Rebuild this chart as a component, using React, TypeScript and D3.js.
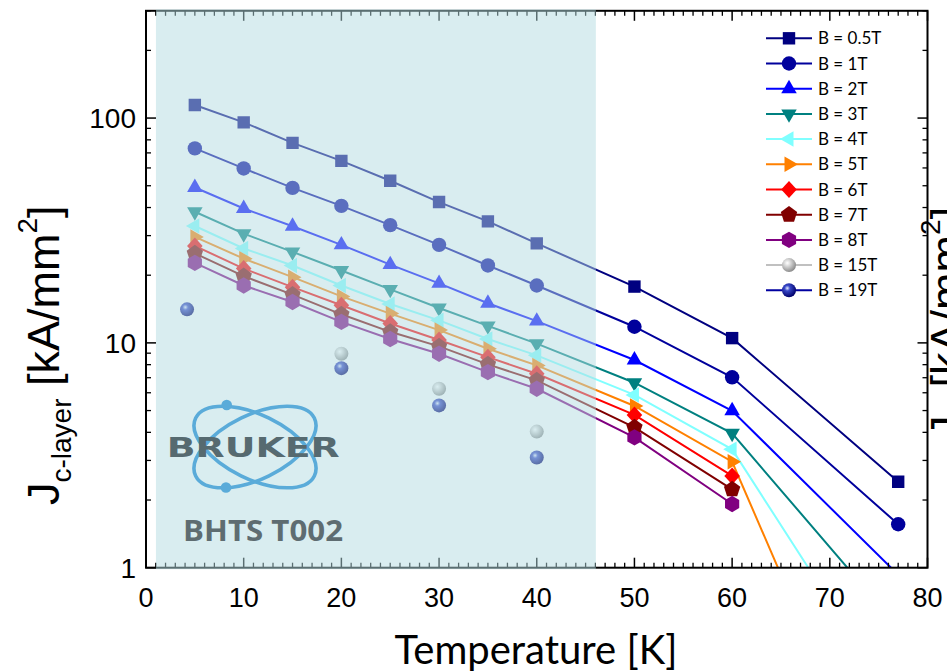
import React from 'react';
import * as d3 from 'd3';

// ---- data ----
const temps = [5, 10, 15, 20, 25, 30, 35, 40, 50, 60, 77];
const jc05T = [114.3, 95.7, 77.6, 64.5, 52.6, 42.3, 34.7, 27.7, 17.8, 10.5, 2.41];
const jc1T = [73.3, 59.7, 48.9, 40.7, 33.4, 27.3, 22.1, 18.0, 11.8, 7.03, 1.56];
const jc2T = [49.1, 39.6, 33.0, 27.3, 22.3, 18.4, 15.0, 12.5, 8.39, 4.99, 0.93];
const jc3T = [38.3, 30.6, 25.4, 21.0, 17.3, 14.3, 11.9, 9.92, 6.65, 3.96, 0.545];
const jc4T = [33.1, 26.3, 22.1, 18.0, 14.9, 12.6, 10.4, 8.8, 5.87, 3.36, 0.239];
const jc5T = [29.6, 23.7, 19.6, 16.1, 13.5, 11.4, 9.42, 7.94, 5.24, 2.96, 0.058];
const jc6T = [27.0, 21.4, 17.7, 14.7, 12.2, 10.3, 8.64, 7.29, 4.78, 2.56, null];
const jc7T = [25.0, 19.8, 16.4, 13.4, 11.2, 9.65, 8.02, 6.81, 4.21, 2.23, null];
const jc8T = [22.7, 18.0, 15.2, 12.4, 10.4, 8.95, 7.41, 6.25, 3.80, 1.92, null];
const temps15T = [20, 30, 40];
const jc15T = [8.95, 6.25, 4.03];
const temps19T = [4.2, 20, 30, 40];
const jc19T = [14.1, 7.72, 5.27, 3.09];

const legendLabels = ['B = 0.5T', 'B = 1T', 'B = 2T', 'B = 3T', 'B = 4T', 'B = 5T', 'B = 6T', 'B = 7T', 'B = 8T', 'B = 15T', 'B = 19T'];
const xTicks = [0, 10, 20, 30, 40, 50, 60, 70, 80];
const yTicks = [1, 10, 100];
const shadeRange = [1.02, 46.05];

// ---- geometry ----
const W = 947, H = 672;
const xs = d3.scaleLinear().domain([0, 80]).range([146, 927.5]);
const ys = d3.scaleLog().domain([1, 300]).range([567.7, 10.8]);

type Kind = 'square' | 'circle' | 'triUp' | 'triDown' | 'triLeft' | 'triRight' | 'diamond' | 'pentagon' | 'hexagon' | 'ballGray' | 'ballBlue';

function poly(n: number, r: number, start: number) {
  const pts: string[] = [];
  for (let k = 0; k < n; k++) {
    const a = (start + (360 / n) * k) * Math.PI / 180;
    pts.push(`${(r * Math.cos(a)).toFixed(2)},${(r * Math.sin(a)).toFixed(2)}`);
  }
  return 'M' + pts.join('L') + 'Z';
}

function markerPath(kind: Kind): string {
  const s = 15.5, h = s * Math.sqrt(3) / 2, a = (2 * h) / 3, b = h / 3;
  switch (kind) {
    case 'square': return 'M-6.2,-6.2H6.2V6.2H-6.2Z';
    case 'circle': return d3.symbol(d3.symbolCircle, Math.PI * 7.2 * 7.2)() as string;
    case 'triUp': return `M0,${-a}L${s / 2},${b}L${-s / 2},${b}Z`;
    case 'triDown': return `M0,${a}L${s / 2},${-b}L${-s / 2},${-b}Z`;
    case 'triLeft': return `M${-a},0L${b},${s / 2}L${b},${-s / 2}Z`;
    case 'triRight': return `M${a},0L${-b},${s / 2}L${-b},${-s / 2}Z`;
    case 'diamond': return 'M0,-8.5L7.8,0L0,8.5L-7.8,0Z';
    case 'pentagon': return poly(5, 8.6, -90);
    case 'hexagon': return poly(6, 8.2, -90);
    default: return d3.symbol(d3.symbolCircle, Math.PI * 49)() as string;
  }
}

interface Series { label: string; color: string; kind: Kind; t: number[]; v: (number | null)[]; line: boolean; }

const series: Series[] = [
  { label: legendLabels[0], color: '#000080', kind: 'square', t: temps, v: jc05T, line: true },
  { label: legendLabels[1], color: '#00009c', kind: 'circle', t: temps, v: jc1T, line: true },
  { label: legendLabels[2], color: '#0000ff', kind: 'triUp', t: temps, v: jc2T, line: true },
  { label: legendLabels[3], color: '#008080', kind: 'triDown', t: temps, v: jc3T, line: true },
  { label: legendLabels[4], color: '#80ffff', kind: 'triLeft', t: temps, v: jc4T, line: true },
  { label: legendLabels[5], color: '#ff8000', kind: 'triRight', t: temps, v: jc5T, line: true },
  { label: legendLabels[6], color: '#ff0000', kind: 'diamond', t: temps, v: jc6T, line: true },
  { label: legendLabels[7], color: '#800000', kind: 'pentagon', t: temps, v: jc7T, line: true },
  { label: legendLabels[8], color: '#800080', kind: 'hexagon', t: temps, v: jc8T, line: true },
  { label: legendLabels[9], color: '#c0c0c0', kind: 'ballGray', t: temps15T, v: jc15T, line: false },
  { label: legendLabels[10], color: '#0000a0', kind: 'ballBlue', t: temps19T, v: jc19T, line: false },
];

function Marker({ kind, color, x, y }: { kind: Kind; color: string; x: number; y: number }) {
  if (kind === 'ballGray' || kind === 'ballBlue') {
    return <circle cx={x} cy={y} r={7} fill={kind === 'ballGray' ? 'url(#ballGray)' : 'url(#ballBlue)'} />;
  }
  return <path d={markerPath(kind)} transform={`translate(${x},${y})`} fill={color} />;
}

export default function App() {
  const [x0, x1] = xs.range();
  const [yb, yt] = ys.range();
  const line = d3.line<[number, number]>().x(d => xs(d[0])).y(d => ys(d[1]));

  const minorX = d3.range(0, 81, 1).filter(t => t % 10 !== 0);
  const minorY: number[] = [];
  [1, 10, 100].forEach(dec => { for (let m = 2; m <= 9; m++) { const v = m * dec; if (v <= 300) minorY.push(v); } });

  const axisFont = '"Liberation Sans", Arial, sans-serif';
  const calibri = 'Lato, "Open Sans", sans-serif';

  return (
    <svg width={W} height={H} style={{ position: 'absolute', left: 0, top: 0, background: '#fff' }}>
      <defs>
        <clipPath id="plotClip"><rect x={x0} y={yt} width={x1 - x0} height={yb - yt} /></clipPath>
        <radialGradient id="ballGray" cx="0.38" cy="0.35" r="0.65">
          <stop offset="0" stopColor="#ffffff" />
          <stop offset="0.35" stopColor="#d8d8d8" />
          <stop offset="1" stopColor="#8c8c8c" />
        </radialGradient>
        <radialGradient id="ballBlue" cx="0.38" cy="0.35" r="0.65">
          <stop offset="0" stopColor="#e6ecff" />
          <stop offset="0.3" stopColor="#3848c8" />
          <stop offset="1" stopColor="#00006a" />
        </radialGradient>
      </defs>

      {/* data */}
      <g clipPath="url(#plotClip)">
        {series.map((s, i) => {
          const pts: [number, number][] = [];
          s.t.forEach((t, j) => { const v = s.v[j]; if (v != null) pts.push([t, v]); });
          return (
            <g key={i}>
              {s.line && <path d={line(pts) as string} fill="none" stroke={s.color} strokeWidth={2} />}
              {pts.map((p, j) => <Marker key={j} kind={s.kind} color={s.color} x={xs(p[0])} y={ys(p[1])} />)}
            </g>
          );
        })}
      </g>

      {/* axes frame */}
      <rect x={x0} y={yt} width={x1 - x0} height={yb - yt} fill="none" stroke="#000" strokeWidth={2} />
      {xTicks.map(t => (
        <g key={'xt' + t}>
          <line x1={xs(t)} x2={xs(t)} y1={yb} y2={yb - 10} stroke="#000" strokeWidth={1.5} />
          <line x1={xs(t)} x2={xs(t)} y1={yt} y2={yt + 10} stroke="#000" strokeWidth={1.5} />
        </g>
      ))}
      {minorX.map(t => (
        <g key={'xm' + t}>
          <line x1={xs(t)} x2={xs(t)} y1={yb} y2={yb - 5} stroke="#000" strokeWidth={1.3} />
          <line x1={xs(t)} x2={xs(t)} y1={yt} y2={yt + 5} stroke="#000" strokeWidth={1.3} />
        </g>
      ))}
      {yTicks.map(v => (
        <g key={'yt' + v}>
          <line x1={x0} x2={x0 + 10} y1={ys(v)} y2={ys(v)} stroke="#000" strokeWidth={1.5} />
          <line x1={x1} x2={x1 - 10} y1={ys(v)} y2={ys(v)} stroke="#000" strokeWidth={1.5} />
        </g>
      ))}
      {minorY.map(v => (
        <g key={'ym' + v}>
          <line x1={x0} x2={x0 + 5} y1={ys(v)} y2={ys(v)} stroke="#000" strokeWidth={1.3} />
          <line x1={x1} x2={x1 - 5} y1={ys(v)} y2={ys(v)} stroke="#000" strokeWidth={1.3} />
        </g>
      ))}

      {/* shaded overlay */}
      <rect x={xs(shadeRange[0])} y={yt - 1.5} width={xs(shadeRange[1]) - xs(shadeRange[0])} height={yb - yt + 3}
        fill="rgb(179,219,225)" fillOpacity={0.5} />

      {/* logo */}
      <g>
        <ellipse cx={255} cy={447} rx={66} ry={32} transform="rotate(26 255 447)" fill="none" stroke="#5aabd9" strokeWidth={3.6} />
        <ellipse cx={255} cy={447} rx={66} ry={32} transform="rotate(-26 255 447)" fill="none" stroke="#5aabd9" strokeWidth={3.6} />
        <circle cx={226.7} cy={405} r={5.3} fill="#5aabd9" />
        <circle cx={226} cy={487.5} r={5.3} fill="#5aabd9" />
        <text x={166.7} y={457} fontFamily='"DejaVu Sans", sans-serif' fontWeight={900} fontSize={27}
          fill="#566a70" textLength={173} lengthAdjust="spacingAndGlyphs">BRUKER</text>
        <text x={183} y={541} fontFamily='"Open Sans", sans-serif' fontWeight={700} fontSize={29}
          fill="#5e6c71" textLength={160} lengthAdjust="spacingAndGlyphs">BHTS T002</text>
      </g>

      {/* tick labels */}
      {xTicks.map(t => (
        <text key={'xl' + t} x={xs(t)} y={607} textAnchor="middle" fontFamily={axisFont} fontSize={27} fill="#000">{t}</text>
      ))}
      {yTicks.map(v => (
        <text key={'yl' + v} x={136} y={ys(v) + 10} textAnchor="end" fontFamily={axisFont} fontSize={28} fill="#000">{v}</text>
      ))}

      {/* axis titles */}
      <text x={536} y={664} textAnchor="middle" fontFamily={calibri} fontSize={40} fill="#000">Temperature [K]</text>
      <text transform="translate(59,505) rotate(-90)" fontFamily={axisFont} fontSize={45} fill="#000">
        J<tspan fontSize={28} dy={12}>c-layer</tspan><tspan dy={-12}> [kA/mm</tspan><tspan fontSize={28} dy={-22}>2</tspan><tspan dy={22}>]</tspan>
      </text>
      <text transform="translate(962,438) rotate(-90)" fontFamily={axisFont} fontSize={45} fill="#000">
        J<tspan fontSize={28} dy={12}>e</tspan><tspan dy={-12}> [kA/mm</tspan><tspan fontSize={28} dy={-22}>2</tspan><tspan dy={22}>]</tspan>
      </text>

      {/* legend */}
      {series.map((s, i) => {
        const ly = 38.3 + i * 25.2;
        return (
          <g key={'lg' + i}>
            <line x1={766} x2={812} y1={ly} y2={ly} stroke={s.color} strokeWidth={2} />
            <Marker kind={s.kind} color={s.color} x={789} y={ly} />
            <text x={818} y={ly + 6} fontFamily={calibri} fontSize={17} fill="#000">{s.label}</text>
          </g>
        );
      })}
    </svg>
  );
}
